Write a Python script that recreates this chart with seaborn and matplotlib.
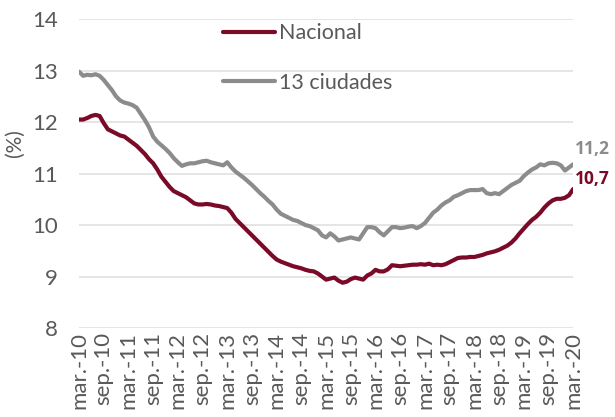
import numpy as np
import pandas as pd
import matplotlib
matplotlib.use("Agg")
import matplotlib.pyplot as plt
import seaborn as sns

# Monthly series, mar-2010 .. mar-2020 (121 months)
nacional = [
    12.05, 12.05, 12.08, 12.12, 12.14, 12.12,
    11.98, 11.86, 11.82, 11.78, 11.74, 11.72,
    11.66, 11.60, 11.54, 11.46, 11.38, 11.28,
    11.20, 11.08, 10.94, 10.84, 10.74, 10.66,
    10.62, 10.58, 10.54, 10.48, 10.42, 10.40,
    10.40, 10.41, 10.40, 10.38, 10.37, 10.35,
    10.33, 10.24, 10.12, 10.04, 9.96, 9.88,
    9.80, 9.72, 9.64, 9.56, 9.48, 9.40,
    9.33, 9.29, 9.26, 9.23, 9.20, 9.18,
    9.16, 9.13, 9.11, 9.10, 9.06, 9.00,
    8.94, 8.96, 8.98, 8.92, 8.88, 8.90,
    8.95, 8.98, 8.96, 8.94, 9.02, 9.06,
    9.13, 9.10, 9.10, 9.14, 9.22, 9.21,
    9.20, 9.21, 9.22, 9.23, 9.23, 9.24,
    9.23, 9.25, 9.22, 9.23, 9.22, 9.24,
    9.28, 9.32, 9.36, 9.37, 9.37, 9.38,
    9.38, 9.40, 9.42, 9.45, 9.47, 9.49,
    9.52, 9.56, 9.60, 9.66, 9.74, 9.84,
    9.93, 10.02, 10.10, 10.16, 10.24, 10.34,
    10.42, 10.48, 10.51, 10.51, 10.53, 10.58,
    10.70,
]
ciudades = [
    12.98, 12.90, 12.92, 12.91, 12.93, 12.90,
    12.82, 12.72, 12.62, 12.50, 12.42, 12.38,
    12.36, 12.33, 12.28, 12.16, 12.04, 11.90,
    11.72, 11.62, 11.55, 11.48, 11.40, 11.30,
    11.22, 11.15, 11.18, 11.20, 11.20, 11.22,
    11.24, 11.25, 11.22, 11.20, 11.18, 11.16,
    11.22, 11.12, 11.04, 10.98, 10.92, 10.85,
    10.78, 10.70, 10.62, 10.55, 10.47, 10.40,
    10.30, 10.22, 10.18, 10.14, 10.10, 10.08,
    10.04, 10.00, 9.98, 9.94, 9.90, 9.80,
    9.76, 9.84, 9.78, 9.70, 9.72, 9.74,
    9.76, 9.74, 9.72, 9.84, 9.96, 9.96,
    9.94, 9.86, 9.80, 9.88, 9.96, 9.96,
    9.94, 9.95, 9.97, 9.98, 9.94, 9.98,
    10.04, 10.14, 10.24, 10.30, 10.38, 10.44,
    10.48, 10.55, 10.58, 10.62, 10.66, 10.68,
    10.68, 10.68, 10.70, 10.62, 10.60, 10.62,
    10.60, 10.66, 10.72, 10.78, 10.82, 10.86,
    10.95, 11.02, 11.08, 11.12, 11.18, 11.16,
    11.20, 11.21, 11.20, 11.16, 11.06, 11.12,
    11.18,
]
tick_labels = []
for yy in range(10, 21):
    tick_labels.append(f"mar.-{yy}")
    if yy < 20:
        tick_labels.append(f"sep.-{yy}")
series_names = ["Nacional", "13 ciudades"]
end_labels = ["10,7", "11,2"]

RED = "#7A0A28"
GRAY = "#8C8C8C"
TXT = "#595959"

sns.set_theme(style="white")
plt.rcParams["font.family"] = ["Lato", "DejaVu Sans"]

n = len(nacional)
df = pd.DataFrame({
    "mes": list(range(n)) * 2,
    "valor": nacional + ciudades,
    "serie": [series_names[0]] * n + [series_names[1]] * n,
})

fig = plt.figure(figsize=(6.15, 4.17), dpi=100)
ax = fig.add_axes([0.1285, 0.2134, 0.8035, 0.7406])

sns.lineplot(data=df, x="mes", y="valor", hue="serie",
             palette={series_names[0]: RED, series_names[1]: GRAY},
             linewidth=3, ax=ax, legend=True)

ax.set_xlim(0, n - 1)
ax.set_ylim(8, 14)
ax.set_yticks(range(8, 15))
ax.set_xticks(range(0, n, 6))
ax.set_xticklabels(tick_labels, rotation=90, fontsize=16, color=TXT)
ax.tick_params(axis="y", labelsize=16, colors=TXT, length=0, pad=15)
ax.tick_params(axis="x", length=0, pad=3)
ax.grid(axis="y", color="#E3E3E3", linewidth=1.3)
ax.grid(axis="x", visible=False)
for s in ax.spines.values():
    s.set_visible(False)
ax.set_xlabel("")
ax.set_ylabel("(%)", fontsize=15, color=TXT)
ax.yaxis.set_label_coords(-0.11, 0.6)

leg = ax.legend(loc="upper left", bbox_to_anchor=(0.253, 1.05), frameon=False,
                fontsize=15.5, handlelength=2.4, handletextpad=0.2,
                labelspacing=1.37)
for t in leg.get_texts():
    t.set_color(TXT)
for h in leg.get_lines():
    h.set_linewidth(3)

ax.annotate(end_labels[1], xy=(n - 1, ciudades[-1]), xytext=(1.5, 11),
            textcoords="offset points", color=GRAY, fontsize=12.5,
            family=["Open Sans", "DejaVu Sans"],
            fontweight="bold", va="center", ha="left", annotation_clip=False)
ax.annotate(end_labels[0], xy=(n - 1, nacional[-1]), xytext=(1.5, 7),
            textcoords="offset points", color=RED, fontsize=12.5,
            family=["Open Sans", "DejaVu Sans"],
            fontweight="bold", va="center", ha="left", annotation_clip=False)

fig.savefig("out.png", dpi=100)
